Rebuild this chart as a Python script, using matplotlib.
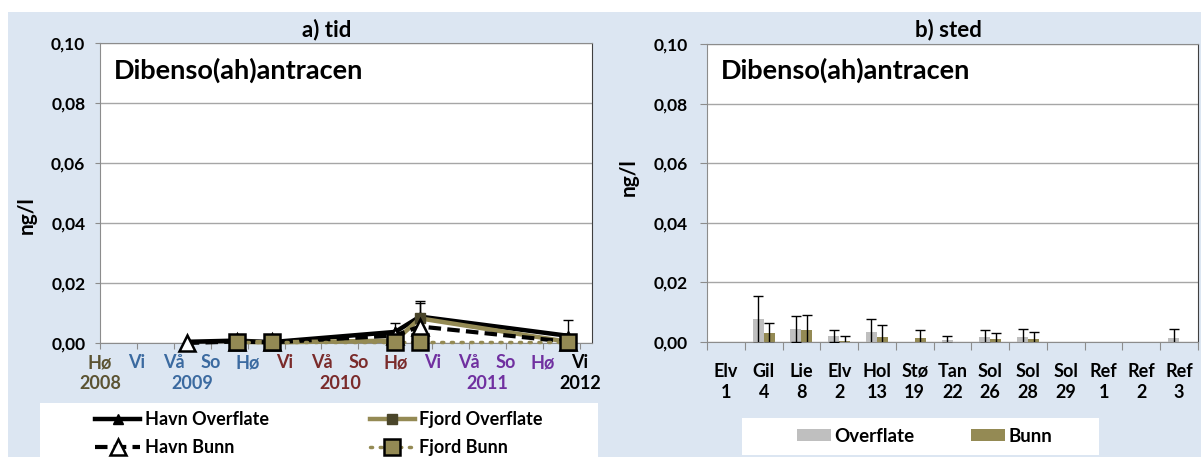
import numpy as np
import matplotlib
matplotlib.use('Agg')
import matplotlib.pyplot as plt
from matplotlib.patches import Rectangle, Patch
import matplotlib.transforms as mtransforms

plt.rcParams['font.family'] = ['Lato', 'DejaVu Sans']

# ---- a) tid : data ----
seasons = ['Hø', 'Vi', 'Vå', 'So', 'Hø', 'Vi', 'Vå', 'So', 'Hø', 'Vi', 'Vå', 'So', 'Hø', 'Vi']
season_year = [2008, 2009, 2009, 2009, 2009, 2010, 2010, 2010, 2010, 2011, 2011, 2011, 2011, 2012]
years = [2008, 2009, 2010, 2011, 2012]
year_colors = ['#5b5332', '#3b6aa0', '#7a2b2b', '#7030a0', '#000000']

# sampling times, in seasons after autumn 2008
sample_time = [2.35, 3.7, 4.65, 8.0, 8.67, 12.68]
havn_overflate = [0.0004, 0.0008, 0.0003, 0.0037, 0.0088, 0.0024]
havn_overflate_err = [np.nan, np.nan, np.nan, 0.0030, 0.0052, 0.0053]
fjord_overflate = [np.nan, 0.0004, 0.0002, 0.0008, 0.0082, 0.0004]
fjord_overflate_err = [np.nan, np.nan, np.nan, np.nan, 0.0051, np.nan]
havn_bunn = [0.0, 0.0005, 0.0002, 0.0025, 0.0055, 0.0004]
fjord_bunn = [np.nan, 0.0002, 0.0002, 0.0002, 0.0002, 0.0002]

# ---- b) sted : data ----
stations = ['Elv\n1', 'Gil\n4', 'Lie\n8', 'Elv\n2', 'Hol\n13', 'Stø\n19', 'Tan\n22',
            'Sol\n26', 'Sol\n28', 'Sol\n29', 'Ref\n1', 'Ref\n2', 'Ref\n3']
overflate = [0, 0.0076, 0.0044, 0.0020, 0.0035, 0, 0.0007, 0.0017, 0.0017, 0, 0, 0, 0.0013]
overflate_err = [np.nan, 0.0079, 0.0043, 0.0020, 0.0042, np.nan, 0.0012, 0.0022, 0.0027,
                 np.nan, np.nan, np.nan, 0.0030]
bunn = [0, 0.0031, 0.0041, 0.0004, 0.0017, 0.0014, 0, 0.0010, 0.0010, 0, 0, 0, 0]
bunn_err = [np.nan, 0.0034, 0.0051, 0.0016, 0.0040, 0.0025, np.nan, 0.0019, 0.0024,
            np.nan, np.nan, np.nan, np.nan]

OLIVE = '#948a54'
OLIVE_DARK = '#4a452a'
GREY = '#bfbfbf'
BG = '#dce6f2'
W, H = 1201, 457
FS = 13

fig = plt.figure(figsize=(W / 100, H / 100), dpi=100)
fig.patches.append(Rectangle((8 / W, 0), 1 - 8 / W, 1 - 12 / H, transform=fig.transFigure,
                             facecolor=BG, edgecolor='none', zorder=-10))


def style_axes(ax, ypad, ylen):
    ax.set_ylim(0, 0.10)
    yt = np.arange(0, 0.1001, 0.02)
    ax.set_yticks(yt)
    ax.set_yticklabels([f'{v:.2f}'.replace('.', ',') for v in yt], fontsize=12.5, fontweight='bold')
    ax.yaxis.grid(True, color='#a6a6a6', lw=1)
    ax.set_axisbelow(True)
    for s in ['left', 'bottom', 'top']:
        ax.spines[s].set_color('#8c8c8c')
    ax.spines['right'].set_color('#404040')
    ax.tick_params(axis='y', direction='out', length=ylen, color='#8c8c8c', pad=ypad)
    ax.text(0.028, 0.882, 'Dibenso(ah)antracen', transform=ax.transAxes, fontsize=19.5,
            fontweight='bold', va='baseline', ha='left')


# ---------- a) tid ----------
ax1 = fig.add_axes([100 / W, 1 - 343 / H, 492 / W, 300 / H])
style_axes(ax1, 7, 3.6)
ax1.set_xlim(0, 13.33)
ax1.set_xticks(range(len(seasons)))
ax1.set_xticklabels(seasons, fontsize=FS, fontweight='bold')
for lab, yr in zip(ax1.get_xticklabels(), season_year):
    lab.set_color(year_colors[years.index(yr)])
ax1.tick_params(axis='x', direction='out', length=4, color='#8c8c8c', pad=4)

trans = mtransforms.blended_transform_factory(ax1.transData, ax1.transAxes)
for yr, col in zip(years, year_colors):
    idx = [i for i, y in enumerate(season_year) if y == yr]
    ax1.text(np.mean(idx), -0.135, str(yr), transform=trans, color=col, fontsize=FS,
             fontweight='bold', ha='center', va='center')

ax1.errorbar(sample_time, havn_overflate, yerr=havn_overflate_err, fmt='none', ecolor='black',
             elinewidth=1, capsize=3.5, zorder=1.5)
ax1.errorbar(sample_time, fjord_overflate, yerr=fjord_overflate_err, fmt='none', ecolor='black',
             elinewidth=1, capsize=3.5, zorder=1.5)

l_ho, = ax1.plot(sample_time, havn_overflate, color='black', lw=3.2, marker='^', ms=7,
                 mfc='black', mec='black', clip_on=False, zorder=3)
l_fo, = ax1.plot(sample_time, fjord_overflate, color=OLIVE, lw=3.2, marker='s', ms=7,
                 mfc=OLIVE_DARK, mec=OLIVE_DARK, clip_on=False, zorder=3.1)
l_hb, = ax1.plot(sample_time, havn_bunn, color='black', lw=3, ls=(0, (3, 1.5)), marker='^',
                 ms=11, mfc='white', mec='black', mew=1.8, clip_on=False, zorder=3.2)
l_fb, = ax1.plot(sample_time, fjord_bunn, color=OLIVE, lw=2.5, ls=(0, (0.6, 2.2)),
                 dash_capstyle='round', marker='s', ms=11, mfc=OLIVE, mec='black', mew=1.8,
                 clip_on=False, zorder=3.3)

fig.text(327 / W, 1 - 30 / H, 'a) tid', fontsize=16, fontweight='bold', ha='center', va='center')
fig.text(27 / W, 1 - 215 / H, 'ng/l', fontsize=15, fontweight='bold', rotation=90,
         ha='center', va='center')

fig.patches.append(Rectangle((40 / W, 0), 558 / W, 1 - 403 / H, transform=fig.transFigure,
                             facecolor='white', edgecolor='none', zorder=-5))
fig.legend([l_ho, l_hb, l_fo, l_fb], ['Havn Overflate', 'Havn Bunn', 'Fjord Overflate', 'Fjord Bunn'],
           loc='upper left', bbox_to_anchor=(95 / W, 1 - 411 / H), ncol=2, frameon=False,
           borderpad=0, borderaxespad=0, handlelength=2.5, handletextpad=0.25,
           columnspacing=5.6, labelspacing=0.62, prop={'size': FS, 'weight': 'bold'})

# ---------- b) sted ----------
ax2 = fig.add_axes([707 / W, 1 - 342 / H, 491 / W, 298 / H])
style_axes(ax2, 9, 5)
x = np.arange(len(stations))
bw = 0.29
ax2.bar(x - bw / 2, overflate, bw, color=GREY, zorder=2)
ax2.bar(x + bw / 2, bunn, bw, color=OLIVE, zorder=2)
ov_err = np.array(overflate_err)
bu_err = np.array(bunn_err)
m1 = ~np.isnan(ov_err)
m2 = ~np.isnan(bu_err)
ax2.errorbar((x - bw / 2)[m1], np.array(overflate)[m1], yerr=ov_err[m1], fmt='none',
             ecolor='black', elinewidth=1, capsize=3.5, zorder=3)
ax2.errorbar((x + bw / 2)[m2], np.array(bunn)[m2], yerr=bu_err[m2], fmt='none',
             ecolor='black', elinewidth=1, capsize=3.5, zorder=3)
ax2.set_xlim(-0.5, len(stations) - 0.5)
ax2.set_xticks(np.arange(len(stations) + 1) - 0.5)
ax2.set_xticklabels([])
ax2.set_xticks(x, minor=True)
ax2.set_xticklabels(stations, minor=True, fontsize=FS, fontweight='bold', linespacing=1.3)
ax2.tick_params(axis='x', which='major', direction='out', length=6, color='#8c8c8c')
ax2.tick_params(axis='x', which='minor', length=0, pad=15)

fig.text(948 / W, 1 - 30 / H, 'b) sted', fontsize=16, fontweight='bold', ha='center', va='center')
fig.text(629 / W, 1 - 177 / H, 'ng/l', fontsize=15, fontweight='bold', rotation=90,
         ha='center', va='center')

fig.patches.append(Rectangle((742 / W, 2 / H), 357 / W, 37 / H, transform=fig.transFigure,
                             facecolor='white', edgecolor='none', zorder=-5))
fig.legend([Patch(facecolor=GREY), Patch(facecolor=OLIVE)], ['Overflate', 'Bunn'],
           loc='center left', bbox_to_anchor=(797 / W, 1 - 436 / H), ncol=2, frameon=False,
           borderpad=0, borderaxespad=0, handlelength=1.8, handleheight=0.6, handletextpad=0.2,
           columnspacing=3.0, prop={'size': 13.5, 'weight': 'bold'})

fig.savefig('out.png', dpi=100)
